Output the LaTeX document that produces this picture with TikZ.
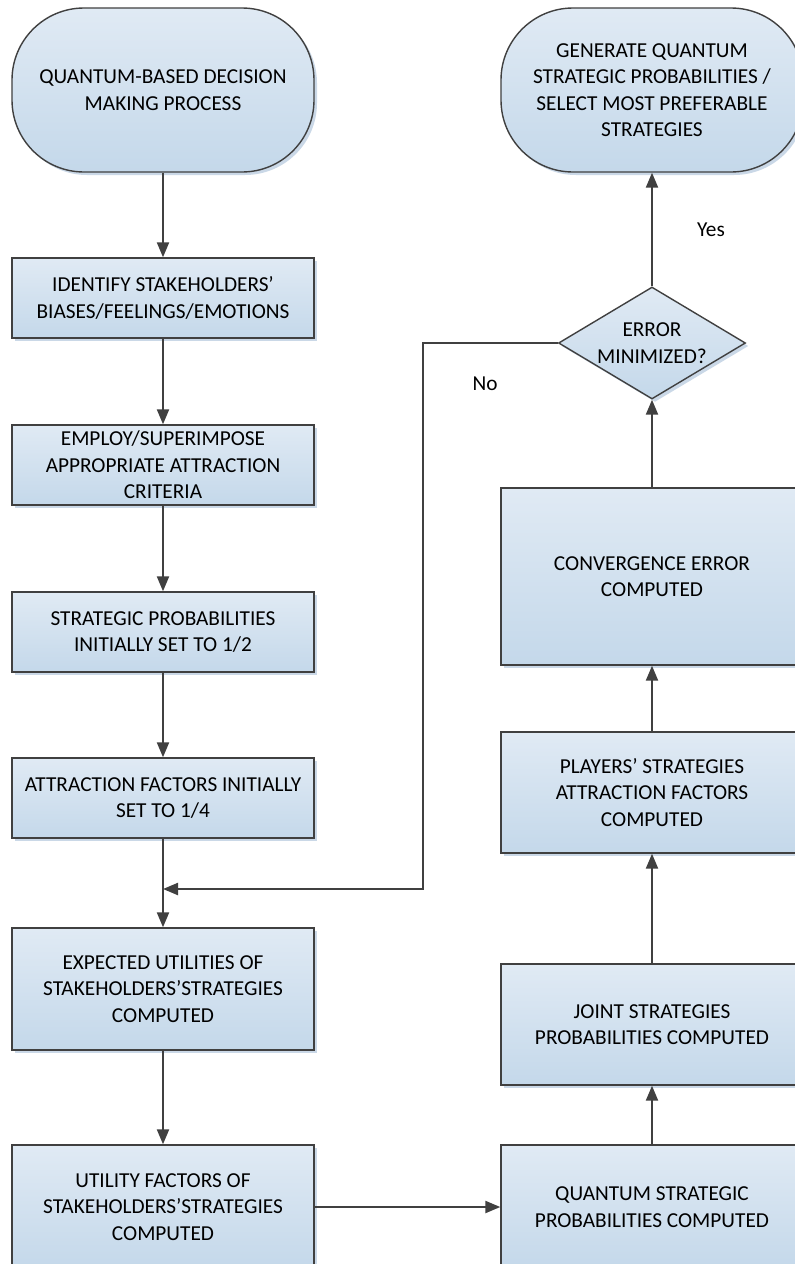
\documentclass[tikz,border=0pt]{standalone}
\usepackage{fontspec}
\setmainfont{Carlito}
\usetikzlibrary{arrows.meta,shapes.geometric,shadows}
\definecolor{lineC}{HTML}{404040}
\definecolor{topC}{HTML}{E0EAF4}
\definecolor{botC}{HTML}{C4D8EA}
\definecolor{shadC}{HTML}{B4C8DE}
\tikzset{
  base/.style={draw=lineC, line width=1.4pt, top color=topC, bottom color=botC,
    drop shadow={shadow xshift=3pt, shadow yshift=-3pt, fill=shadC, opacity=0.7},
    align=center, font=\fontsize{21.3}{26.5}\selectfont, text=black, inner sep=0pt},
  procbox/.style={base, rectangle, minimum width=302pt},
  termbox/.style={base, rectangle, rounded corners=72pt, minimum width=302pt, minimum height=164pt},
  decbox/.style={base, diamond, aspect=1.67, minimum width=187pt, minimum height=112pt},
  flow/.style={draw=lineC, line width=2.2pt, -{Triangle[length=15pt,width=12pt]}},
  lbl/.style={font=\fontsize{21.3}{26}\selectfont, text=black}
}
\begin{document}
\begin{tikzpicture}[x=1pt,y=-1pt]
\path[use as bounding box, clip] (0,0) rectangle (795,1264);
\fill[white] (0,0) rectangle (795,1264);
% left column
\node[termbox] (start) at (163,90) {QUANTUM-BASED DECISION\\MAKING PROCESS};
\node[procbox, minimum height=80pt] (ident) at (163,298) {IDENTIFY STAKEHOLDERS’\\BIASES/FEELINGS/EMOTIONS};
\node[procbox, minimum height=80pt] (employ) at (163,465) {EMPLOY/SUPERIMPOSE\\APPROPRIATE ATTRACTION\\CRITERIA};
\node[procbox, minimum height=80pt] (strat) at (163,632) {STRATEGIC PROBABILITIES\\INITIALLY SET TO 1/2};
\node[procbox, minimum height=80pt] (attr) at (163,798) {ATTRACTION FACTORS INITIALLY\\SET TO 1/4};
\node[procbox, minimum height=122pt] (exp) at (163,989) {EXPECTED UTILITIES OF\\STAKEHOLDERS’STRATEGIES\\COMPUTED};
\node[procbox, minimum height=124pt] (util) at (163,1207) {UTILITY FACTORS OF\\STAKEHOLDERS’STRATEGIES\\COMPUTED};
% right column
\node[termbox] (gen) at (652,90) {GENERATE QUANTUM\\STRATEGIC PROBABILITIES /\\SELECT MOST PREFERABLE\\STRATEGIES};
\node[decbox] (err) at (652,343) {ERROR\\MINIMIZED?};
\node[procbox, minimum height=177pt] (conv) at (652,576.5) {CONVERGENCE ERROR\\COMPUTED};
\node[procbox, minimum height=121pt] (play) at (652,792.5) {PLAYERS’ STRATEGIES\\ATTRACTION FACTORS\\COMPUTED};
\node[procbox, minimum height=121pt] (joint) at (652,1024.5) {JOINT STRATEGIES\\PROBABILITIES COMPUTED};
\node[procbox, minimum height=124pt] (quant) at (652,1207) {QUANTUM STRATEGIC\\PROBABILITIES COMPUTED};
% labels
\node[lbl] (yes) at (711,230) {Yes};
\node[lbl] (no) at (485,384) {No};
% connectors
\coordinate (merge) at (163,889);
\coordinate (cornA) at (423,343);
\coordinate (cornB) at (423,889);
\draw[flow] (start) -- (ident);
\draw[flow] (ident) -- (employ);
\draw[flow] (employ) -- (strat);
\draw[flow] (strat) -- (attr);
\draw[flow] (attr) -- (exp);
\draw[flow] (exp) -- (util);
\draw[flow] (util) -- (quant);
\draw[flow] (quant) -- (joint);
\draw[flow] (joint) -- (play);
\draw[flow] (play) -- (conv);
\draw[flow] (conv) -- (err);
\draw[flow] (err) -- (gen);
\draw[flow] (err.west) -- (cornA) -- (cornB) -- (merge);
\end{tikzpicture}
\end{document}
